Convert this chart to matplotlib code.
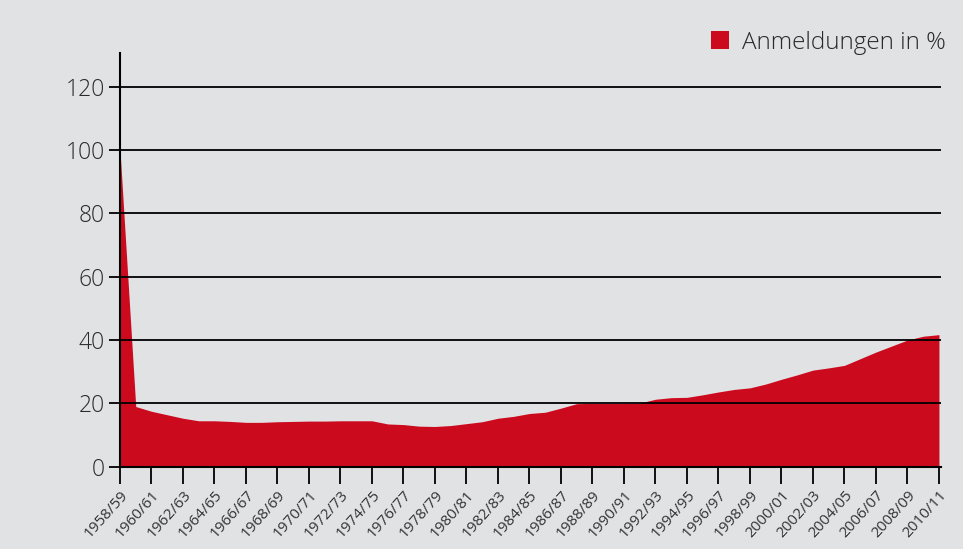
import matplotlib
matplotlib.use("Agg")
import matplotlib.pyplot as plt
import matplotlib.transforms as mtransforms
from matplotlib.patches import Patch
import numpy as np

plt.rcParams['font.family'] = ['Open Sans', 'DejaVu Sans']

seasons = [f"{y}/{(y + 1) % 100:02d}" for y in range(1958, 2011)]
anmeldungen = [100, 19, 17.5, 16.4, 15.3, 14.5, 14.5, 14.3, 14.0, 14.0,
               14.2, 14.3, 14.4, 14.4, 14.5, 14.5, 14.5, 13.5, 13.3, 12.8,
               12.7, 13.0, 13.6, 14.2, 15.3, 15.9, 16.8, 17.2, 18.5, 19.9,
               20.0, 20.0, 20.0, 20.1, 21.3, 21.8, 21.9, 22.7, 23.6, 24.4,
               24.9, 26.1, 27.6, 29.0, 30.5, 31.2, 32.0, 34.1, 36.2, 38.1,
               40.0, 41.2, 41.7]
yticks = [0, 20, 40, 60, 80, 100, 120]
legend_label = "Anmeldungen in %"

bg = "#e1e2e4"
red = "#cc0a1e"
txt = "#2a2a2a"

fig = plt.figure(figsize=(9.63, 5.49), dpi=100, facecolor=bg)
ax = fig.add_axes([120 / 963, 1 - 466.7 / 549, (941 - 120) / 963, (466.7 - 52.5) / 549])
ax.set_facecolor(bg)

x = np.arange(len(seasons))
ax.fill_between(x, 0, anmeldungen, color=red, linewidth=0, zorder=1)

ax.set_xlim(0, 52.13)
ax.set_ylim(0, 130.8)

ax.set_yticks(yticks)
ax.set_yticklabels([str(v) for v in yticks], fontsize=16.5, color=txt, fontweight='light')
for v in yticks[1:]:
    ax.axhline(v, color="black", linewidth=1.3, zorder=3)

ax.set_xticks(x[::2])
labels = ax.set_xticklabels([seasons[i] for i in x[::2]], rotation=48,
                            ha='right', va='top', rotation_mode='anchor',
                            fontsize=11, color="#333333", fontweight='normal')
offset = mtransforms.ScaledTranslation(11 / 100, 0, fig.dpi_scale_trans)
for lab in labels:
    lab.set_transform(lab.get_transform() + offset)

ax.tick_params(axis='y', length=8, width=1.3, pad=3, color="black")
ax.tick_params(axis='x', length=12, width=1.3, pad=3, color="black")

for s in ['top', 'right']:
    ax.spines[s].set_visible(False)
for s in ['left', 'bottom']:
    ax.spines[s].set_color("black")
    ax.spines[s].set_linewidth(1.5)
    ax.spines[s].set_zorder(4)

handle = Patch(facecolor=red, edgecolor='none', label=legend_label)
leg = fig.legend(handles=[handle], loc='upper right', bbox_to_anchor=(956 / 963, 1 - 21 / 549),
                 frameon=False, handlelength=0.75, handleheight=0.75,
                 handletextpad=0.55, borderaxespad=0, prop={'weight': 'light', 'size': 17.5})
for t in leg.get_texts():
    t.set_color(txt)

fig.savefig("out.png", dpi=100, facecolor=bg)
